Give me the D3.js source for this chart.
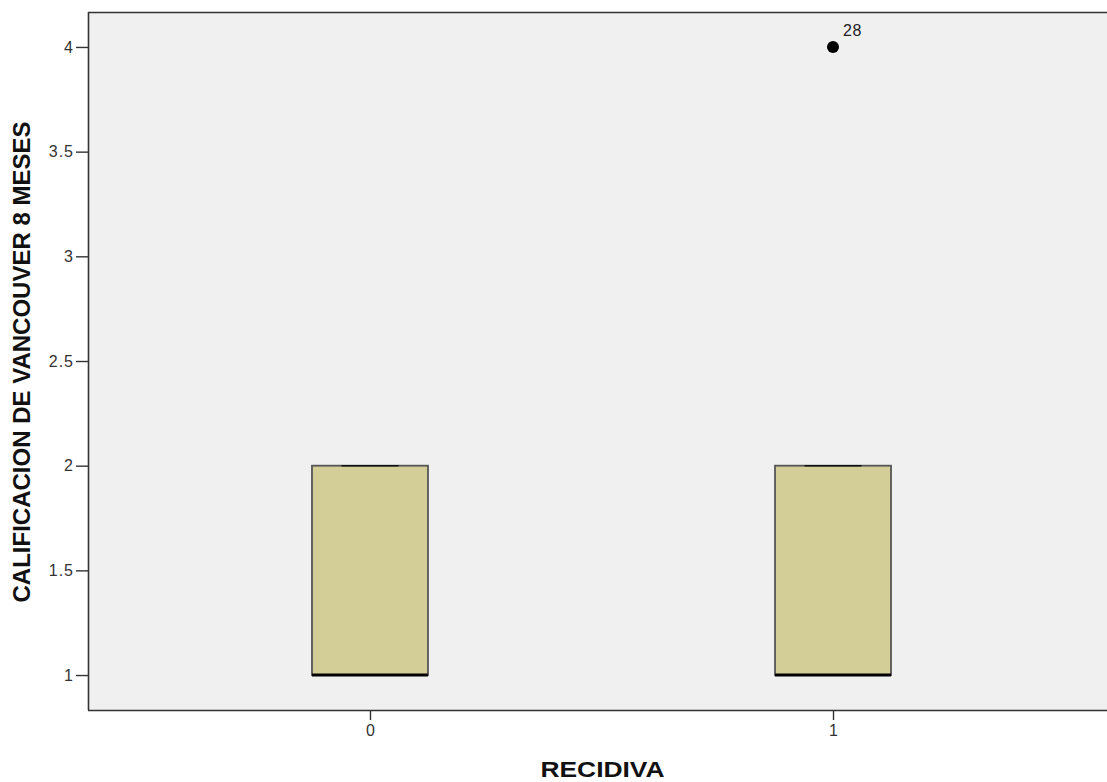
<!DOCTYPE html>
<html>
<head>
<meta charset="utf-8">
<script src="https://cdn.jsdelivr.net/npm/d3@7"></script>
<style>
  html, body { margin: 0; padding: 0; background: #fff; }
  svg { display: block; }
</style>
</head>
<body>
<svg id="chart" width="1107" height="782"></svg>
<script>
// ---- data ----
const categories = ["0", "1"];
const q1Values = [1, 1];
const medianValues = [1, 1];
const q3Values = [2, 2];
const whiskerLow = [1, 1];
const whiskerHigh = [2, 2];
const outlierCategory = ["1"];
const outlierValues = [4];
const outlierLabels = ["28"];
const yTicks = [1, 1.5, 2, 2.5, 3, 3.5, 4];
const yTickLabels = ["1", "1.5", "2", "2.5", "3", "3.5", "4"];
const xTitle = "RECIDIVA";
const yTitle = "CALIFICACION DE VANCOUVER 8 MESES";

// ---- layout ----
const W = 1107, H = 782;
const plot = { left: 88, top: 12, right: 1115, bottom: 710 };
const FONT = "Liberation Sans, Arial, sans-serif";
const svg = d3.select("#chart");

const x = d3.scalePoint().domain(categories).range([plot.left, plot.right]).padding(0.609);
const y = d3.scaleLinear().domain([0.833, 4.167]).range([plot.bottom, plot.top]);

// plot background
svg.append("rect")
  .attr("x", plot.left).attr("y", plot.top)
  .attr("width", plot.right - plot.left).attr("height", plot.bottom - plot.top)
  .attr("fill", "#f0f0f0");

// top frame line
svg.append("line").attr("x1", plot.left).attr("x2", W).attr("y1", plot.top + 0.5).attr("y2", plot.top + 0.5)
  .attr("stroke", "#333").attr("stroke-width", 1.5);

// axes
const yAxis = d3.axisLeft(y).tickValues(yTicks).tickFormat((d, i) => yTickLabels[i]).tickSize(12).tickPadding(2);
const gy = svg.append("g").attr("transform", `translate(${plot.left},0)`).call(yAxis);
gy.select(".domain").attr("d", `M0.5,${plot.top}V${plot.bottom}`).attr("stroke", "#333").attr("stroke-width", 1.6);
gy.selectAll(".tick line").attr("stroke", "#333").attr("stroke-width", 1.4);
gy.selectAll(".tick text").style("font-family", FONT).style("font-size", "16px").style("letter-spacing", "1px").attr("fill", "#333");

const xAxis = d3.axisBottom(x).tickSize(10).tickPadding(5);
const gx = svg.append("g").attr("transform", `translate(0,${plot.bottom})`).call(xAxis);
gx.select(".domain").attr("d", `M${plot.left},0.5H${W}`).attr("stroke", "#333").attr("stroke-width", 1.6);
gx.selectAll(".tick line").attr("stroke", "#333").attr("stroke-width", 1.4);
gx.selectAll(".tick text").style("font-family", FONT).style("font-size", "16px").attr("fill", "#333");

// boxes
const boxW = 116;
const capW = 57;
const data = categories.map((c, i) => ({
  c, q1: q1Values[i], med: medianValues[i], q3: q3Values[i], lo: whiskerLow[i], hi: whiskerHigh[i]
}));
const boxes = svg.append("g");
data.forEach(d => {
  const cx = x(d.c);
  boxes.append("line").attr("x1", cx).attr("x2", cx).attr("y1", y(d.hi)).attr("y2", y(d.q3))
    .attr("stroke", "#222").attr("stroke-width", 1.2);
  boxes.append("line").attr("x1", cx).attr("x2", cx).attr("y1", y(d.q1)).attr("y2", y(d.lo))
    .attr("stroke", "#222").attr("stroke-width", 1.2);
  boxes.append("rect")
    .attr("x", cx - boxW / 2).attr("y", y(d.q3))
    .attr("width", boxW).attr("height", y(d.q1) - y(d.q3))
    .attr("fill", "#d3ce98").attr("stroke", "#555").attr("stroke-width", 1.8);
  boxes.append("line").attr("x1", cx - capW / 2).attr("x2", cx + capW / 2).attr("y1", y(d.hi)).attr("y2", y(d.hi))
    .attr("stroke", "#111").attr("stroke-width", 1.6);
  boxes.append("line").attr("x1", cx - capW / 2).attr("x2", cx + capW / 2).attr("y1", y(d.lo)).attr("y2", y(d.lo))
    .attr("stroke", "#111").attr("stroke-width", 1.6);
  boxes.append("line").attr("x1", cx - boxW / 2).attr("x2", cx + boxW / 2).attr("y1", y(d.med)).attr("y2", y(d.med))
    .attr("stroke", "#000").attr("stroke-width", 3);
});

// outliers
outlierValues.forEach((v, i) => {
  const cx = x(outlierCategory[i]);
  svg.append("circle").attr("cx", cx).attr("cy", y(v)).attr("r", 6).attr("fill", "#000");
  svg.append("text").attr("x", cx + 10).attr("y", y(v) - 11)
    .style("font-family", FONT).style("font-size", "16px").style("letter-spacing", "0.5px").attr("fill", "#222")
    .text(outlierLabels[i]);
});

// titles
svg.append("text")
  .attr("transform", `translate(${(plot.left + plot.right) / 2 + 1},777) scale(1.2,1)`)
  .attr("text-anchor", "middle")
  .style("font-family", FONT).style("font-weight", "bold").style("font-size", "22px")
  .attr("fill", "#111").text(xTitle);

svg.append("text")
  .attr("transform", `translate(30,362) rotate(-90)`)
  .attr("text-anchor", "middle")
  .style("font-family", FONT).style("font-weight", "bold").style("font-size", "24px")
  .attr("fill", "#111").text(yTitle);
</script>
</body>
</html>
